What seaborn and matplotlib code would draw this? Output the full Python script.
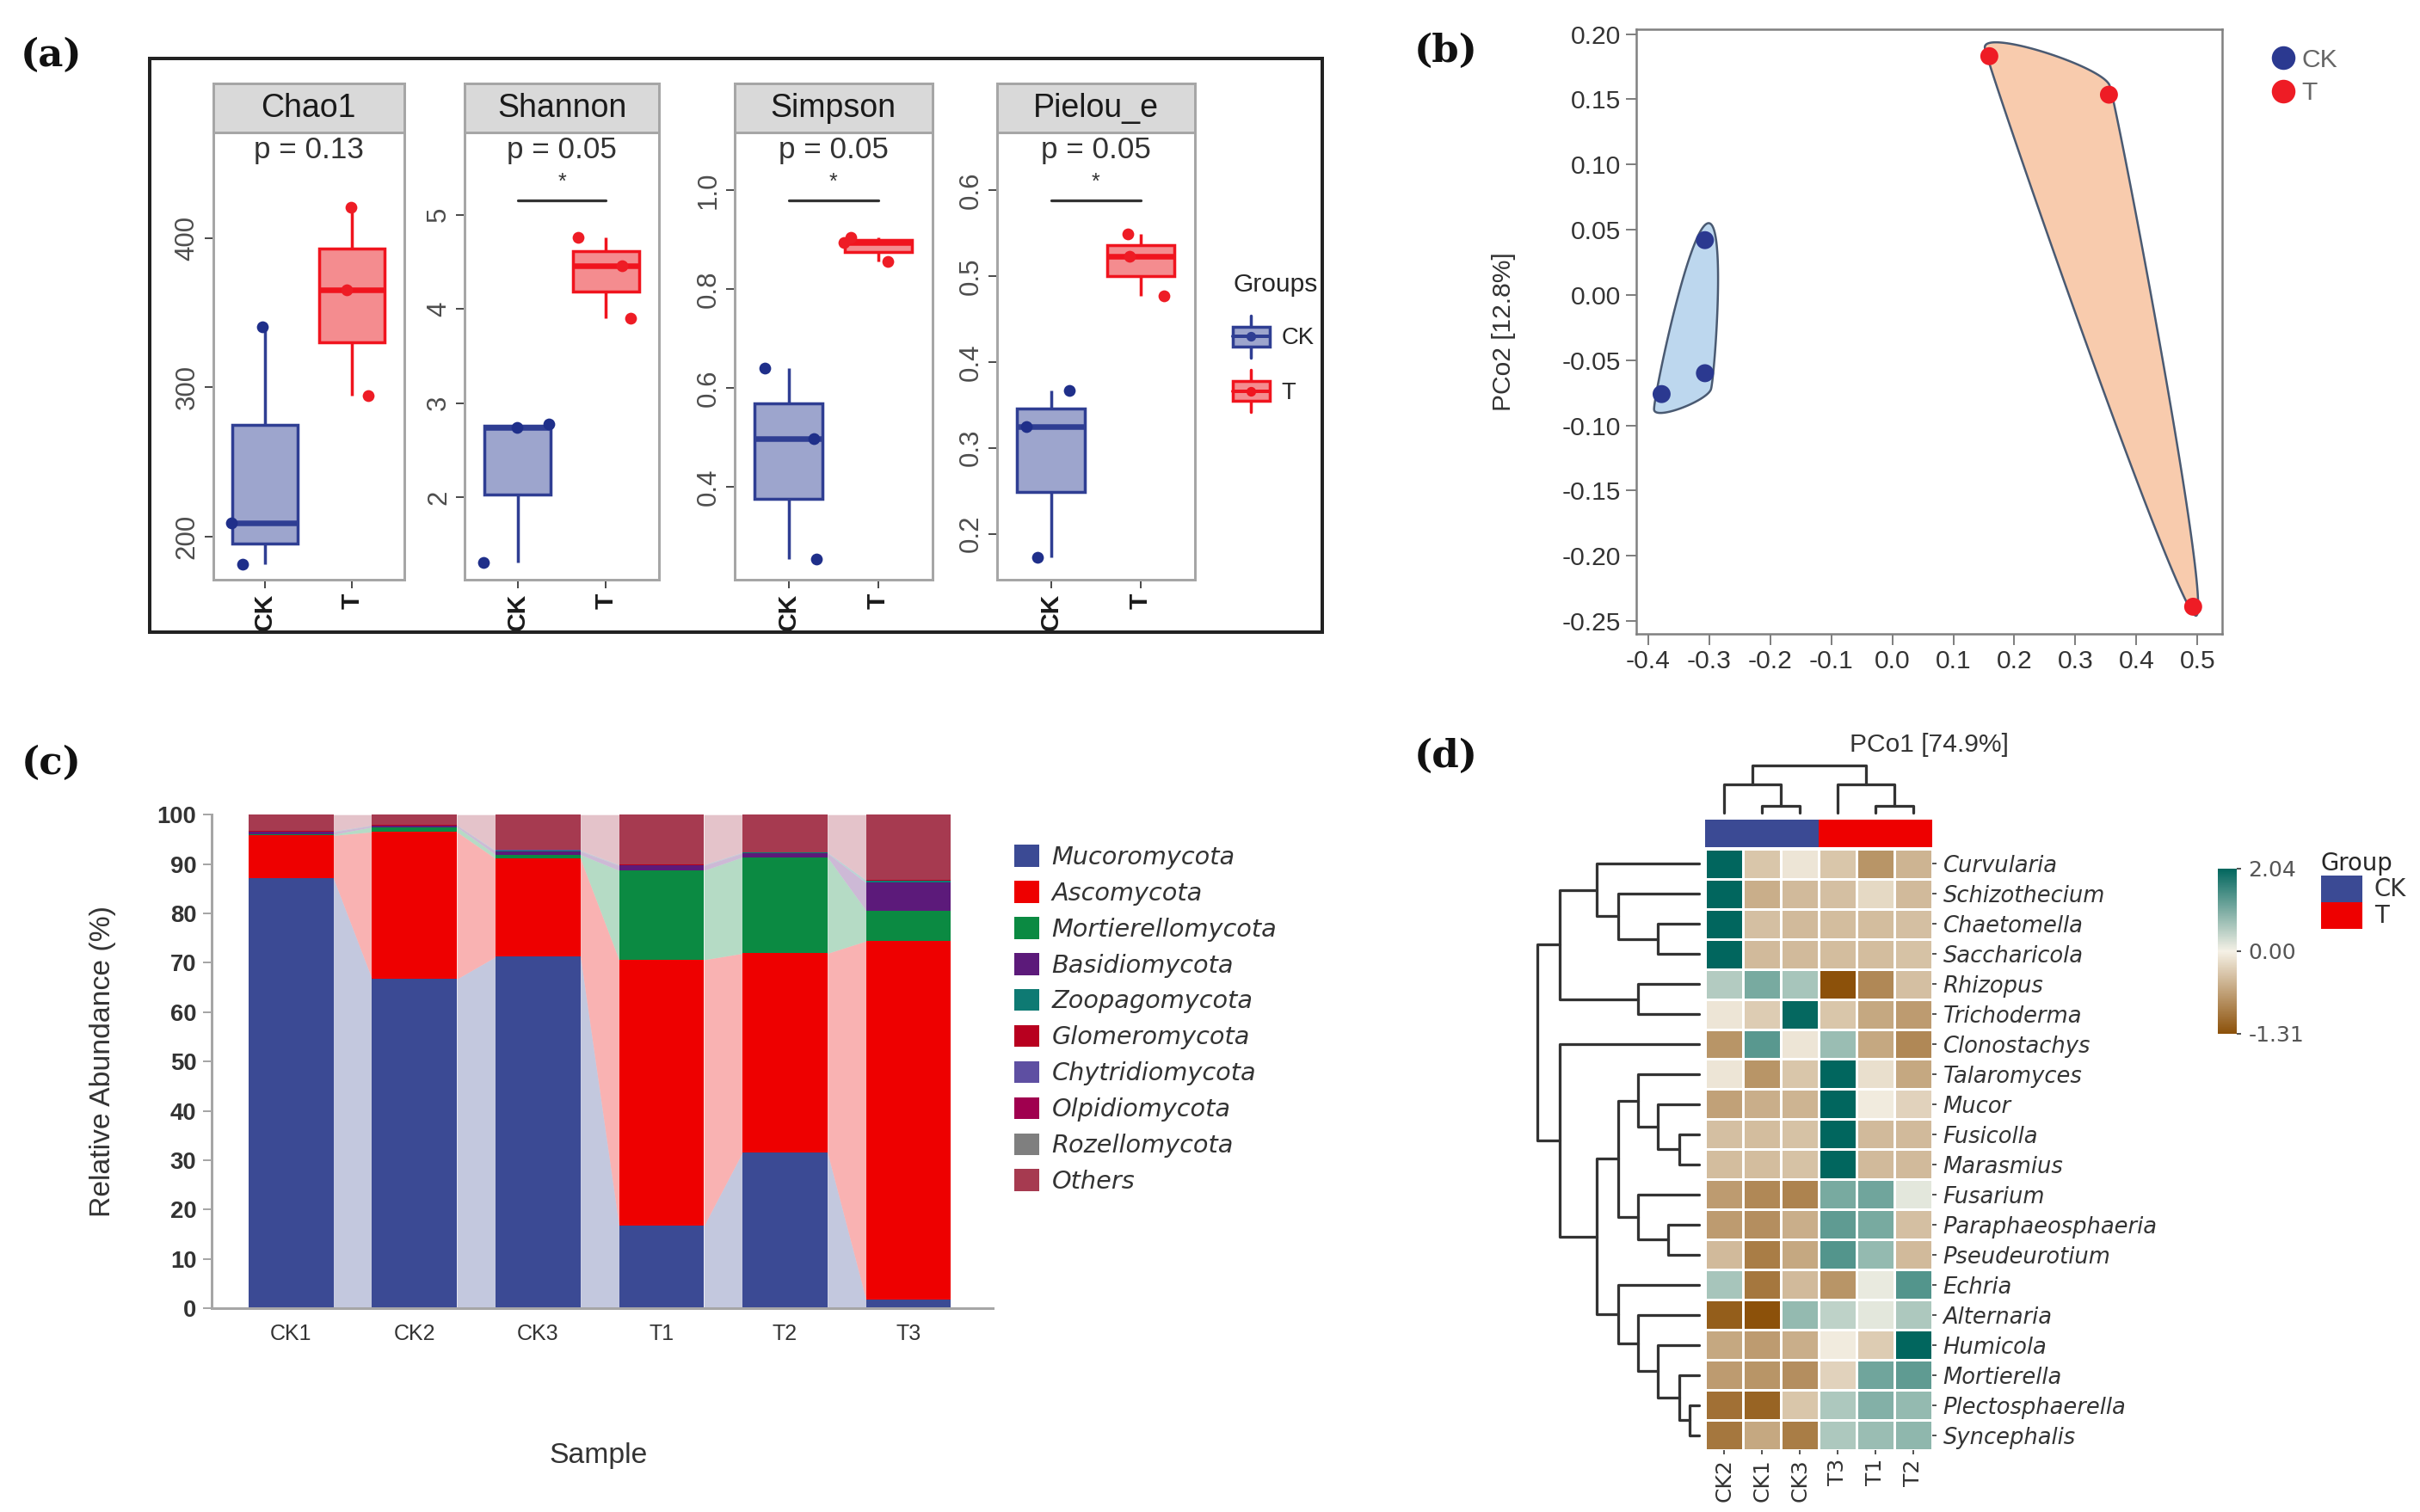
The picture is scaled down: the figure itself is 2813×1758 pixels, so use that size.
import numpy as np
import pandas as pd
import matplotlib.pyplot as plt
import matplotlib.transforms as mtransforms
import seaborn as sns
from matplotlib.patches import Rectangle, Patch
from matplotlib.lines import Line2D
from matplotlib.legend_handler import HandlerBase
from matplotlib.colors import LinearSegmentedColormap, ListedColormap, TwoSlopeNorm

# ===== (a) alpha diversity =====
groups = ['CK', 'T']
chao1_ck = [181.3, 208.7, 340.7]
chao1_t = [294.6, 365.4, 421.0]
shannon_ck = [1.31, 2.74, 2.78]
shannon_t = [3.90, 4.46, 4.76]
simpson_ck = [0.253, 0.497, 0.639]
simpson_t = [0.855, 0.893, 0.905]
pielou_ck = [0.173, 0.325, 0.367]
pielou_t = [0.477, 0.523, 0.549]
alpha_names = ['Chao1', 'Shannon', 'Simpson', 'Pielou_e']
p_labels = ['p = 0.13', 'p = 0.05', 'p = 0.05', 'p = 0.05']
sig_marks = ['', '*', '*', '*']

# ===== (b) PCoA =====
pcoa_group = ['CK', 'CK', 'CK', 'T', 'T', 'T']
pc1 = [-0.307, -0.307, -0.378, 0.159, 0.355, 0.493]
pc2 = [0.042, -0.060, -0.076, 0.183, 0.1535, -0.239]

# ===== (c) phylum composition =====
samples = ['CK1', 'CK2', 'CK3', 'T1', 'T2', 'T3']
phyla = ['Mucoromycota', 'Ascomycota', 'Mortierellomycota', 'Basidiomycota',
         'Zoopagomycota', 'Glomeromycota', 'Chytridiomycota', 'Olpidiomycota',
         'Rozellomycota', 'Others']
mucoromycota = [87.1, 66.7, 71.2, 16.7, 31.6, 1.8]
ascomycota = [8.7, 29.8, 19.9, 53.9, 40.3, 72.6]
mortierellomycota = [0.2, 1.0, 0.8, 18.1, 19.5, 6.2]
basidiomycota = [0.5, 0.3, 0.7, 1.0, 0.8, 5.6]
zoopagomycota = [0.1, 0.05, 0.1, 0.1, 0.1, 0.5]
glomeromycota = [0.05, 0.05, 0.05, 0.05, 0.05, 0.05]
chytridiomycota = [0.05, 0.02, 0.05, 0.05, 0.05, 0.05]
olpidiomycota = [0.02, 0.02, 0.02, 0.02, 0.02, 0.02]
rozellomycota = [0.01, 0.01, 0.01, 0.01, 0.01, 0.01]
others = [3.27, 2.05, 7.17, 10.07, 7.57, 13.17]
phylum_colors = ['#3B4A94', '#EE0000', '#0B8A42', '#5C1A7A', '#0E7A73',
                 '#B8001F', '#5E4FA2', '#A0004F', '#7F7F7F', '#A63A50']

# ===== (d) heatmap =====
hm_cols = ['CK2', 'CK1', 'CK3', 'T3', 'T1', 'T2']
hm_col_group = ['CK', 'CK', 'CK', 'T', 'T', 'T']
genera = ['Curvularia', 'Schizothecium', 'Chaetomella', 'Saccharicola', 'Rhizopus',
          'Trichoderma', 'Clonostachys', 'Talaromyces', 'Mucor', 'Fusicolla',
          'Marasmius', 'Fusarium', 'Paraphaeosphaeria', 'Pseudeurotium', 'Echria',
          'Alternaria', 'Humicola', 'Mortierella', 'Plectosphaerella', 'Syncephalis']
z_ck2 = [2.04, 2.04, 2.04, 2.04, 0.55, -0.1, -0.75, -0.1, -0.65, -0.4,
         -0.42, -0.7, -0.7, -0.45, 0.65, -1.2, -0.6, -0.7, -1.05, -1.0]
z_ck1 = [-0.35, -0.55, -0.4, -0.45, 1.05, -0.3, 1.3, -0.75, -0.55, -0.42,
         -0.42, -0.85, -0.8, -0.95, -1.0, -1.31, -0.7, -0.75, -1.15, -0.6]
z_ck3 = [-0.1, -0.45, -0.45, -0.45, 0.65, 2.0, -0.1, -0.35, -0.5, -0.38,
         -0.38, -0.9, -0.55, -0.6, -0.45, 0.8, -0.55, -0.8, -0.35, -0.95]
z_t3 = [-0.35, -0.4, -0.42, -0.42, -1.31, -0.35, 0.75, 2.04, 2.04, 2.04,
        2.04, 1.05, 1.25, 1.35, -0.75, 0.45, -0.05, -0.25, 0.6, 0.6]
z_t1 = [-0.75, -0.2, -0.42, -0.42, -0.85, -0.6, -0.6, -0.15, -0.05, -0.45,
        -0.45, 1.1, 1.05, 0.8, 0.1, 0.15, -0.3, 1.1, 0.95, 0.75]
z_t2 = [-0.5, -0.45, -0.4, -0.38, -0.4, -0.7, -0.85, -0.6, -0.25, -0.45,
        -0.45, 0.15, -0.4, -0.45, 1.35, 0.6, 2.04, 1.25, 0.8, 0.85]
# linkage: (left, right, height), new clusters numbered from n upward
row_merges = [(18, 19, 35), (9, 10, 72), (17, 20, 72), (12, 13, 110), (2, 3, 147),
              (8, 21, 147), (16, 22, 147), (4, 5, 220), (7, 25, 220), (11, 23, 220),
              (15, 26, 220), (1, 24, 290), (28, 29, 290), (14, 30, 290), (0, 31, 368),
              (32, 33, 368), (34, 27, 500), (6, 35, 500), (36, 37, 580)]
col_merges = [(1, 2, 25), (4, 5, 25), (0, 6, 100), (3, 7, 100), (8, 9, 165)]

# ===== style =====
sns.set_style('white')
plt.rcParams['font.family'] = ['Liberation Sans', 'DejaVu Sans']
W, H = 1568, 980
fig = plt.figure(figsize=(2813 / 180, 1758 / 180), dpi=180)


def px_axes(l, t, r, b):
    return fig.add_axes([l / W, 1 - b / H, (r - l) / W, (b - t) / H])


def fx(x):
    return x / W


def fy(y):
    return 1 - y / H


ck_fill, ck_edge, ck_pt = '#9DA5CD', '#2F3E93', '#1F2F8A'
t_fill, t_edge, t_pt = '#F48C8F', '#F0141E', '#EE1C25'


class BoxKey(HandlerBase):
    def create_artists(self, legend, orig_handle, xdescent, ydescent,
                       width, height, fontsize, trans):
        fc, ec = orig_handle.get_facecolor(), orig_handle.get_edgecolor()
        x0, y0 = -xdescent, -ydescent
        cx, bh = x0 + width / 2, height * 0.66
        wh = Line2D([cx, cx], [y0 - 3, y0 + height + 3], color=ec, lw=1.4, transform=trans)
        box = Rectangle((x0, y0 + (height - bh) / 2), width, bh, facecolor=fc,
                        edgecolor=ec, lw=1.4, transform=trans)
        med = Line2D([x0, x0 + width], [y0 + height / 2] * 2, color=ec, lw=1.6, transform=trans)
        dot = Line2D([cx], [y0 + height / 2], marker='o', ms=3.5, color=ec, transform=trans)
        return [wh, box, med, dot]


# ----- (a) -----
np.random.seed(11)
alpha_sets = [(chao1_ck, chao1_t), (shannon_ck, shannon_t),
              (simpson_ck, simpson_t), (pielou_ck, pielou_t)]
a_boxes = [(138, 262), (301, 427), (476, 604), (646, 774)]
a_ylims = [(170.6, 470.8), (1.12, 5.87), (0.211, 1.116), (0.146, 0.667)]
a_ticks = [[200, 300, 400], [2, 3, 4, 5], [0.4, 0.6, 0.8, 1.0], [0.2, 0.3, 0.4, 0.5, 0.6]]
strip_h = 32 / 290
for i, name in enumerate(alpha_names):
    ax = px_axes(a_boxes[i][0], 86, a_boxes[i][1], 376)
    ck_vals, t_vals = alpha_sets[i]
    df = pd.DataFrame({'group': ['CK'] * 3 + ['T'] * 3, 'value': ck_vals + t_vals})
    for g, fc, ec in [('CK', ck_fill, ck_edge), ('T', t_fill, t_edge)]:
        sns.boxplot(data=df[df.group == g], x='group', y='value', order=groups,
                    color=fc, linecolor=ec, linewidth=1.4, width=0.75, saturation=1,
                    showcaps=False, showfliers=False,
                    medianprops=dict(linewidth=2.6), ax=ax)
    for g, pc in [('CK', ck_pt), ('T', t_pt)]:
        sns.stripplot(data=df[df.group == g], x='group', y='value', order=groups,
                      color=pc, size=5.5, jitter=0.4, zorder=4, ax=ax)
    ax.set_xlim(-0.6, 1.6)
    ax.set_ylim(*a_ylims[i])
    ax.set_yticks(a_ticks[i])
    ax.set_xlabel('')
    ax.set_ylabel('')
    for s in ax.spines.values():
        s.set_color('#A6A6A6')
        s.set_linewidth(1.2)
    ax.tick_params(axis='y', labelrotation=90, labelsize=12.5, labelcolor='#4D4D4D',
                   length=4, color='#4D4D4D', left=True, pad=2)
    ax.tick_params(axis='x', labelrotation=90, labelsize=12, labelcolor='#1A1A1A',
                   length=4, color='#4D4D4D', bottom=True, pad=2)
    for lab in ax.get_xticklabels():
        lab.set_fontweight('bold')
    for lab in ax.get_yticklabels():
        lab.set_va('center')
    ax.add_patch(Rectangle((0, 1), 1, strip_h, transform=ax.transAxes, clip_on=False,
                           facecolor='#D9D9D9', edgecolor='#A6A6A6', lw=1.2))
    ax.text(0.5, 1 + strip_h / 2, name, transform=ax.transAxes, ha='center',
            va='center', fontsize=15, color='#1A1A1A')
    tr = mtransforms.blended_transform_factory(ax.transData, ax.transAxes)
    ax.text(0.5, 0.962, p_labels[i], transform=tr, ha='center', va='center',
            fontsize=14, color='#333333')
    if sig_marks[i]:
        ax.plot([0, 1], [0.848, 0.848], transform=tr, color='#333333', lw=1.3)
        ax.text(0.5, 0.89, sig_marks[i], transform=tr, ha='center', va='center',
                fontsize=10, color='#333333')

fig.add_artist(Rectangle((fx(97), fy(410)), fx(857) - fx(97), fy(38) - fy(410),
                         transform=fig.transFigure, fill=False, edgecolor='#222222', lw=1.6))
fig.legend(handles=[Patch(facecolor=ck_fill, edgecolor=ck_edge),
                    Patch(facecolor=t_fill, edgecolor=t_edge)],
           labels=groups, handler_map={Patch: BoxKey()}, title='Groups',
           loc='upper left', bbox_to_anchor=(fx(785), fy(163)), frameon=False,
           handlelength=1.55, handleheight=1.55, labelspacing=1.05, handletextpad=0.5,
           alignment='left', prop={'size': 11}, title_fontproperties={'size': 12})

# ----- (b) -----
ax_b = px_axes(1060, 19, 1440, 411)
bx_lim, by_lim = (-0.42, 0.541), (-0.26, 0.2036)
sx, sy = 380 / (bx_lim[1] - bx_lim[0]), 392 / (by_lim[1] - by_lim[0])


def convex_hull(pts):
    pts = sorted(map(tuple, pts))

    def cross(o, a, b):
        return (a[0] - o[0]) * (b[1] - o[1]) - (a[1] - o[1]) * (b[0] - o[0])
    lower, upper = [], []
    for p in pts:
        while len(lower) >= 2 and cross(lower[-2], lower[-1], p) <= 0:
            lower.pop()
        lower.append(p)
    for p in reversed(pts):
        while len(upper) >= 2 and cross(upper[-2], upper[-1], p) <= 0:
            upper.pop()
        upper.append(p)
    return np.array(lower[:-1] + upper[:-1])


def encircle(xs, ys, grow=7, cap=40, n=60):
    # smooth closed curve round the group's hull (worked out in pixel space)
    P = convex_hull(np.column_stack([(np.array(xs) - bx_lim[0]) * sx,
                                     (np.array(ys) - by_lim[0]) * sy]))
    d = P - P.mean(axis=0)
    P = P + grow * d / np.linalg.norm(d, axis=1)[:, None]
    nxt, prv = np.roll(P, -1, axis=0), np.roll(P, 1, axis=0)
    e_n = np.linalg.norm(nxt - P, axis=1)
    e_p = np.linalg.norm(P - prv, axis=1)
    dirs = (nxt - prv) / np.linalg.norm(nxt - prv, axis=1)[:, None]
    m = dirs * np.minimum(0.6 * np.minimum(e_n, e_p), cap)[:, None]
    t = np.linspace(0, 1, n)[:, None]
    h00, h10 = 2 * t**3 - 3 * t**2 + 1, t**3 - 2 * t**2 + t
    h01, h11 = -2 * t**3 + 3 * t**2, t**3 - t**2
    pieces = []
    for i in range(len(P)):
        j = (i + 1) % len(P)
        pieces.append(h00 * P[i] + h10 * m[i] + h01 * P[j] + h11 * m[j])
    c = np.vstack(pieces)
    return c[:, 0] / sx + bx_lim[0], c[:, 1] / sy + by_lim[0]


for g, fc in [('CK', '#BDD7EE'), ('T', '#F8CBAD')]:
    xs = [x for x, gg in zip(pc1, pcoa_group) if gg == g]
    ys = [y for y, gg in zip(pc2, pcoa_group) if gg == g]
    hx, hy = encircle(xs, ys, grow=11 if g == 'CK' else 6)
    ax_b.fill(hx, hy, facecolor=fc, edgecolor='#4A5A72', lw=1.0, zorder=1)
sns.scatterplot(x=pc1, y=pc2, hue=pcoa_group, palette={'CK': '#2B3990', 'T': '#EE1C25'},
                s=70, linewidth=0, legend=False, ax=ax_b, zorder=3)
ax_b.set_xlim(*bx_lim)
ax_b.set_ylim(*by_lim)
ax_b.set_xticks([-0.4, -0.3, -0.2, -0.1, 0.0, 0.1, 0.2, 0.3, 0.4, 0.5])
ax_b.set_xticklabels(['-0.4', '-0.3', '-0.2', '-0.1', '0.0', '0.1', '0.2', '0.3', '0.4', '0.5'])
ax_b.set_yticks([-0.25, -0.2, -0.15, -0.1, -0.05, 0.0, 0.05, 0.1, 0.15, 0.2])
ax_b.set_yticklabels(['-0.25', '-0.20', '-0.15', '-0.10', '-0.05', '0.00',
                      '0.05', '0.10', '0.15', '0.20'])
ax_b.tick_params(labelsize=12, labelcolor='#333333', length=5, color='#808080',
                 left=True, bottom=True, pad=2)
for s in ax_b.spines.values():
    s.set_color('#808080')
    s.set_linewidth(1.0)
ax_b.set_xlabel('PCo1 [74.9%]', fontsize=12, color='#333333')
ax_b.set_ylabel('PCo2 [12.8%]', fontsize=12, color='#333333')
ax_b.xaxis.set_label_coords(0.5, (411 - 475) / 392)
ax_b.yaxis.set_label_coords((982 - 1060) / 380, 0.5)
ax_b.legend(handles=[Line2D([], [], marker='o', ls='', color='#2B3990', ms=10),
                     Line2D([], [], marker='o', ls='', color='#EE1C25', ms=10)],
            labels=groups, loc='upper left', bbox_to_anchor=(fx(1456), fy(16)),
            bbox_transform=fig.transFigure, frameon=False, handletextpad=0.2,
            labelspacing=0.35, handlelength=1.0, prop={'size': 12},
            labelcolor='#666666')

# ----- (c) -----
ax_c = px_axes(137, 528, 643, 848)
layers = [mucoromycota, ascomycota, mortierellomycota, basidiomycota, zoopagomycota,
          glomeromycota, chytridiomycota, olpidiomycota, rozellomycota, others]
tops = np.cumsum(np.array(layers), axis=0)
bottoms = tops - np.array(layers)
bw = 0.6875
for k in range(len(layers) - 1, -1, -1):
    sns.barplot(x=samples, y=tops[k], order=samples, color=phylum_colors[k],
                width=bw, saturation=1, linewidth=0, errorbar=None, ax=ax_c)
for k in range(len(layers)):
    for j in range(len(samples) - 1):
        ax_c.fill_between([j + bw / 2, j + 1 - bw / 2], [bottoms[k][j], bottoms[k][j + 1]],
                          [tops[k][j], tops[k][j + 1]], color=phylum_colors[k],
                          alpha=0.3, linewidth=0, zorder=0)
ax_c.set_xlim(-0.644, 5.68)
ax_c.set_ylim(0, 100)
ax_c.set_yticks(range(0, 101, 10))
sns.despine(ax=ax_c)
for s in ['left', 'bottom']:
    ax_c.spines[s].set_color('#A6A6A6')
    ax_c.spines[s].set_linewidth(1.2)
ax_c.tick_params(axis='y', labelsize=11, labelcolor='#333333', length=4,
                 color='#A6A6A6', left=True, pad=3)
for lab in ax_c.get_yticklabels():
    lab.set_fontweight('bold')
ax_c.tick_params(axis='x', labelsize=10, labelcolor='#333333', length=0, pad=7)
ax_c.set_ylabel('Relative Abundance (%)', fontsize=13.5, color='#333333')
ax_c.set_xlabel('Sample', fontsize=13.5, color='#333333')
ax_c.yaxis.set_label_coords((75 - 137) / 506, 0.5)
ax_c.xaxis.set_label_coords((388 - 137) / 506, (848 - 935) / 320)
fig.legend(handles=[Patch(facecolor=c, edgecolor='none') for c in phylum_colors],
           labels=phyla, loc='upper left', bbox_to_anchor=(fx(643), fy(533)),
           frameon=False, handlelength=1.0, handleheight=1.0, labelspacing=0.46,
           handletextpad=0.5, prop={'family': 'DejaVu Sans', 'style': 'italic', 'size': 11.5},
           labelcolor='#333333')

# ----- (d) -----
ax_hm = px_axes(1105, 550, 1252, 940)
ax_cb = px_axes(1437, 563, 1449, 670)
ax_gb = px_axes(1105, 531, 1252, 549)
ax_cd = px_axes(1105, 496, 1252, 529)
ax_rd = px_axes(996, 550, 1103, 940)

hm = pd.DataFrame({'CK2': z_ck2, 'CK1': z_ck1, 'CK3': z_ck3,
                   'T3': z_t3, 'T1': z_t1, 'T2': z_t2}, index=genera)[hm_cols]
vmin, vmax = -1.31, 2.04
cmap = LinearSegmentedColormap.from_list(
    'brtl', [(0, '#8C510A'), (0.5, '#F5F1E6'), (1, '#01665E')])
sns.heatmap(hm, ax=ax_hm, cmap=cmap, norm=TwoSlopeNorm(0, vmin, vmax), linewidths=1.2,
            linecolor='white', cbar_ax=ax_cb, cbar_kws={'ticks': [vmin, 0, vmax]})
ax_hm.yaxis.tick_right()
ax_hm.set_yticks(np.arange(len(genera)) + 0.5)
ax_hm.set_yticklabels(genera, rotation=0, fontfamily='DejaVu Sans', fontstyle='italic',
                      fontsize=10.3, color='#333333')
ax_hm.set_xticklabels(hm_cols, rotation=90, fontfamily='DejaVu Sans', fontsize=10,
                      color='#333333')
ax_hm.tick_params(axis='y', length=2, color='#555555', right=True, left=False, pad=3)
ax_hm.tick_params(axis='x', length=2, color='#555555', bottom=True, pad=2)
ax_hm.set_xlabel('')
ax_hm.set_ylabel('')
cbar = ax_hm.collections[0].colorbar
cbar.outline.set_visible(False)
cbar.set_ticks([vmin, 0, vmax])
cbar.set_ticklabels(['-1.31', '0.00', '2.04'])
ax_cb.tick_params(labelsize=10, labelcolor='#555555', length=2, color='#555555')
for lab in ax_cb.get_yticklabels():
    lab.set_fontfamily('DejaVu Sans')

grp_codes = pd.DataFrame([[groups.index(g) for g in hm_col_group]])
sns.heatmap(grp_codes, ax=ax_gb, cmap=ListedColormap(['#3B4A94', '#EE0000']),
            vmin=0, vmax=1, cbar=False, xticklabels=False, yticklabels=False)


def dendro(merges, n):
    pos = {i: i + 0.5 for i in range(n)}
    hgt = {i: 0.0 for i in range(n)}
    segs = []
    for k, (a, b, h) in enumerate(merges):
        segs.append(([pos[a], pos[a], pos[b], pos[b]], [hgt[a], h, h, hgt[b]]))
        pos[n + k] = (pos[a] + pos[b]) / 2
        hgt[n + k] = h
    return segs


for p, h in dendro(row_merges, len(genera)):
    ax_rd.plot(h, p, color='#333333', lw=1.3, clip_on=False)
ax_rd.set_ylim(len(genera), 0)
ax_rd.set_xlim(max(m[2] for m in row_merges), -12)
ax_rd.axis('off')
for p, h in dendro(col_merges, len(hm_cols)):
    ax_cd.plot(p, h, color='#333333', lw=1.3, clip_on=False)
ax_cd.set_xlim(0, len(hm_cols))
ax_cd.set_ylim(-12, max(m[2] for m in col_merges))
ax_cd.axis('off')

fig.legend(handles=[Patch(facecolor='#3B4A94', edgecolor='none'),
                    Patch(facecolor='#EE0000', edgecolor='none')],
           labels=groups, title='Group', loc='upper left', alignment='left',
           bbox_to_anchor=(fx(1490), fy(538)), frameon=False, handlelength=1.75,
           handleheight=1.35, labelspacing=0.0, handletextpad=0.5,
           prop={'family': 'DejaVu Sans', 'size': 11}, labelcolor='#333333',
           title_fontproperties={'family': 'DejaVu Sans', 'size': 11})

# ----- panel letters -----
for lab, (x, y) in zip(['(a)', '(b)', '(c)', '(d)'],
                       [(33, 36), (937, 33), (33, 495), (937, 490)]):
    fig.text(fx(x), fy(y), lab, ha='center', va='center', fontsize=18,
             fontweight='bold', fontfamily='DejaVu Serif', color='#111111')

fig.savefig('out.png', dpi=180)
